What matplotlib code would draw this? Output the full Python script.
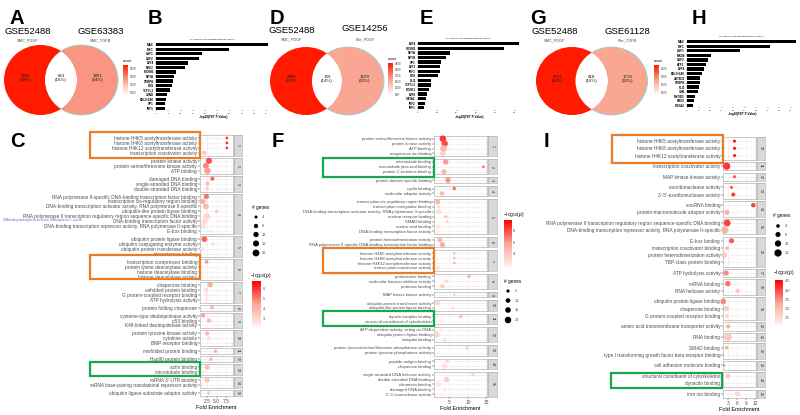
import numpy as np
import matplotlib
matplotlib.use("Agg")
import matplotlib.pyplot as plt
from matplotlib.patches import Ellipse, Rectangle
from matplotlib.colors import LinearSegmentedColormap, Normalize

plt.rcParams['font.family'] = ['Liberation Sans', 'DejaVu Sans']
plt.rcParams['mathtext.fontset'] = 'custom'
plt.rcParams['mathtext.rm'] = 'Liberation Sans'
plt.rcParams['mathtext.it'] = 'Liberation Sans:italic'

# ---------------- Venn data ----------------
venn_A_counts = [2686, 863, 1851]
venn_A_pct = [50, 16, 34]
venn_A_sets = ["GSE52488", "GSE63383"]
venn_A_sub = ["SMC_PDGF", "SMC_TGFB"]

venn_D_counts = [2800, 749, 1699]
venn_D_pct = [53, 14, 32]
venn_D_sets = ["GSE52488", "GSE14256"]
venn_D_sub = ["SMC_PDGF", "Fibr_PDGF"]

venn_G_counts = [2731, 818, 1719]
venn_G_pct = [52, 16, 33]
venn_G_sets = ["GSE52488", "GSE61128"]
venn_G_sub = ["SMC_PDGF", "Fibr_TGFB"]

# ---------------- TF bar data ----------------
B_tf = ["MAX", "MYC", "USF1", "USF2", "E2F4", "NFE2", "FOXM1", "NFYA", "CEBPB", "FOS",
        "TCF7L2", "JUND", "BHLHE40", "SP1", "IRF3"]
B_val = [45.5, 29.7, 18.9, 17.4, 13.1, 11.9, 8.0, 7.4, 6.8, 6.6, 5.7, 4.3, 4.1, 3.8, 3.5]

E_tf = ["E2F4", "FOXM1", "NFYA", "NFYB", "SP1", "E2F1", "IRF3", "FOS", "FLI1", "TCF7L2",
        "FOXK1", "E2F6", "GATA2", "IRF2", "IRF1"]
E_val = [52.3, 44.5, 16.7, 14.7, 11.7, 11.6, 11.4, 10.3, 6.9, 6.6, 5.9, 4.7, 4.0, 3.4, 2.9]

H_tf = ["MAX", "MYC", "USF1", "MXD4", "USF2", "ATF1", "E2F4", "BHLHE40", "ZBTB33", "CEBPB",
        "FLI1", "JUN", "MYOD1", "PBX3", "FOXA2"]
H_val = [47.5, 36.2, 23.2, 10.6, 9.1, 8.1, 7.5, 6.7, 5.8, 5.7, 5.4, 4.8, 3.3, 2.9, 2.5]

# ---------------- GO dot data: panel C ----------------
C_terms = [
    "histone H4K5 acetyltransferase activity", "histone H4K8 acetyltransferase activity",
    "histone H4K12 acetyltransferase activity", "transcription coactivator activity",
    "protein kinase activity", "protein serine/threonine kinase activity", "ATP binding",
    "damaged DNA binding", "single-stranded DNA binding", "double-stranded DNA binding",
    "RNA polymerase II-specific DNA-binding transcription factor binding",
    "transcription cis-regulatory region binding",
    "DNA-binding transcription activator activity, RNA polymerase II-specific",
    "ubiquitin-like protein ligase binding",
    "RNA polymerase II transcription regulatory region sequence-specific DNA binding",
    "DNA-binding transcription factor activity",
    "DNA-binding transcription repressor activity, RNA polymerase II-specific",
    "E-box binding",
    "ubiquitin protein ligase binding", "ubiquitin conjugating enzyme activity",
    "ubiquitin-protein transferase activity", "thioesterase binding",
    "transcription corepressor binding", "protein lysine deacetylase activity",
    "histone deacetylase binding", "histone deacetylase activity",
    "chaperone binding", "unfolded protein binding", "G protein-coupled receptor binding",
    "ATP hydrolysis activity",
    "protein folding chaperone",
    "cysteine-type deubiquitinase activity", "p53 binding", "K48-linked deubiquitinase activity",
    "protein tyrosine kinase activity", "cytokine activity", "BMP receptor binding",
    "misfolded protein binding",
    "Hsp90 protein binding",
    "actin binding", "microtubule binding",
    "mRNA 3'-UTR binding", "mRNA base-pairing translational repressor activity",
    "ubiquitin ligase-substrate adaptor activity"]
C_group = [1, 1, 1, 1, 2, 2, 2, 3, 3, 3, 4, 4, 4, 4, 4, 4, 4, 4, 5, 5, 5, 5, 6, 6, 6, 6,
           7, 7, 7, 7, 8, 9, 9, 9, 10, 10, 10, 11, 12, 13, 13, 14, 14, 15]
C_fe = [7.7, 7.7, 7.7, 1.7, 3.0, 2.2, 2.6, 3.9, 2.6, 2.5, 2.3, 1.4, 2.2, 5.0, 2.4, 1.8, 1.5, 3.5,
        1.8, 4.0, 1.2, 1.0, 2.4, 1.4, 1.2, 3.5, 3.3, 2.2, 2.4, 2.5, 3.8, 1.5, 3.0, 5.7,
        2.5, 3.0, 9.0, 4.7, 3.5, 2.5, 1.6, 2.5, 1.3, 2.9]
C_genes = [3, 3, 3, 10, 16, 15, 18, 7, 7, 7, 12, 12, 15, 5, 20, 16, 12, 6, 14, 5, 8, 3, 6, 4, 6, 4,
           12, 8, 8, 10, 7, 6, 8, 3, 8, 8, 3, 5, 6, 12, 6, 12, 4, 6]
C_logp = [6.3, 6.3, 6.3, 3.4, 5.8, 5.0, 4.6, 5.6, 3.8, 3.2, 5.2, 4.3, 3.9, 3.3, 3.0, 2.9, 2.7, 2.5,
          5.5, 2.8, 2.5, 2.3, 4.6, 2.5, 2.4, 2.3, 4.3, 3.0, 2.6, 2.3, 4.0, 4.6, 4.0, 2.4,
          3.8, 2.6, 2.3, 4.2, 3.8, 3.7, 2.4, 3.5, 2.3, 3.3]

# ---------------- panel F ----------------
F_terms = [
    "protein serine/threonine kinase activity", "protein kinase activity", "ATP binding",
    "magnesium ion binding",
    "microtubule binding", "microtubule plus-end binding", "protein C-terminus binding",
    "protein domain specific binding",
    "cyclin binding", "molecular adaptor activity",
    "transcription cis-regulatory region binding", "transcription coregulator binding",
    "DNA-binding transcription activator activity, RNA polymerase II-specific",
    "nuclear receptor binding", "SMAD binding", "nucleic acid binding",
    "DNA-binding transcription factor activity",
    "protein heterodimerization activity",
    "RNA polymerase II-specific DNA-binding transcription factor binding",
    "histone H4K5 acetyltransferase activity", "histone H4K8 acetyltransferase activity",
    "histone H4K12 acetyltransferase activity", "transcription coactivator activity",
    "proteasome binding", "molecular function inhibitor activity", "protease binding",
    "MAP kinase kinase activity",
    "ubiquitin-protein transferase activity", "ubiquitin-like protein ligase binding",
    "dynein complex binding", "structural constituent of cytoskeleton",
    "ATP-dependent activity, acting on DNA", "ubiquitin protein ligase binding", "ubiquitin binding",
    "protein tyrosine/serine/threonine phosphatase activity", "protein tyrosine phosphatase activity",
    "peptide antigen binding", "chaperone binding",
    "single-stranded DNA helicase activity", "double-stranded DNA binding", "chromatin binding",
    "damaged DNA binding", "5'-3' exonuclease activity"]
F_group = [1, 1, 1, 1, 2, 2, 2, 3, 4, 4, 5, 5, 5, 5, 5, 5, 5, 6, 6, 7, 7, 7, 7, 8, 8, 8, 9,
           10, 10, 11, 11, 12, 12, 12, 13, 13, 14, 14, 15, 15, 15, 15, 15]
F_fe = [3.2, 3.7, 3.4, 3.2, 4.0, 14.2, 3.5, 4.6, 6.3, 3.0, 1.8, 2.0, 2.1, 4.0, 4.4, 2.0, 1.6,
        2.4, 3.1, 6.3, 6.3, 6.3, 2.0, 10.3, 4.1, 3.1, 6.3, 1.8, 6.0, 8.1, 2.6, 2.8, 1.6, 3.7,
        9.8, 2.1, 4.4, 3.7, 11.4, 4.2, 2.0, 3.7, 2.8]
F_genes = [20, 20, 22, 14, 14, 4, 13, 14, 6, 10, 12, 5, 12, 6, 4, 8, 10, 12, 14, 3, 3, 3, 12,
           6, 6, 10, 3, 12, 6, 7, 6, 4, 16, 10, 7, 5, 5, 14, 7, 12, 14, 8, 4]
F_logp = [8.8, 8.2, 5.0, 4.0, 6.2, 7.0, 5.0, 6.3, 7.2, 5.0, 5.2, 3.2, 3.0, 4.0, 3.5, 2.6, 2.2,
          5.0, 5.6, 5.4, 5.4, 5.4, 2.6, 5.0, 3.5, 4.0, 4.0, 3.5, 2.6, 4.5, 2.2, 2.6, 3.5, 2.6,
          3.5, 2.2, 3.5, 3.0, 3.5, 4.0, 2.5, 2.2, 2.2]

# ---------------- panel I ----------------
I_terms = [
    "histone H4K5 acetyltransferase activity", "histone H4K8 acetyltransferase activity",
    "histone H4K12 acetyltransferase activity",
    "transcription coactivator activity",
    "MAP kinase kinase activity",
    "exoribonuclease activity", "3'-5'-exoribonuclease activity",
    "snoRNA binding", "protein-macromolecule adaptor activity",
    "RNA polymerase II transcription regulatory region sequence-specific DNA binding",
    "DNA-binding transcription repressor activity, RNA polymerase II-specific",
    "E-box binding", "transcription coactivator binding", "protein heterodimerization activity",
    "TBP-class protein binding",
    "ATP hydrolysis activity",
    "mRNA binding", "RNA helicase activity",
    "ubiquitin protein ligase binding", "chaperone binding", "G protein-coupled receptor binding",
    "amino acid transmembrane transporter activity",
    "RNA binding",
    "SMAD binding", "type I transforming growth factor beta receptor binding",
    "cell adhesion molecule binding",
    "structural constituent of cytoskeleton", "dynactin binding",
    "iron ion binding"]
I_group = [10, 10, 10, 11, 12, 13, 13, 14, 14, 15, 15, 16, 16, 16, 16, 17, 18, 18, 19, 19, 19,
           20, 21, 22, 22, 23, 24, 24, 25]
I_fe = [5.2, 5.2, 5.2, 2.6, 5.2, 4.2, 4.8, 11.4, 2.7, 2.8, 2.0, 4.2, 2.8, 1.8, 3.4, 2.4, 3.0,
        6.2, 1.5, 2.5, 2.6, 3.1, 3.0, 2.6, 6.0, 1.8, 3.0, 2.0, 6.2]
I_genes = [3, 3, 3, 16, 3, 3, 5, 6, 8, 14, 15, 8, 4, 10, 2, 8, 9, 6, 10, 8, 5, 5, 18, 4, 2, 2,
           7, 2, 8]
I_logp = [4.5, 4.5, 4.5, 4.3, 4.0, 4.0, 4.2, 4.2, 3.2, 4.2, 3.2, 4.0, 3.2, 2.8, 2.3, 3.6, 3.8,
          2.8, 3.6, 2.8, 2.6, 3.3, 2.8, 3.2, 2.3, 3.5, 2.8, 2.2, 2.6]

# ================= drawing =================
W, H = 800, 415
fig = plt.figure(figsize=(W / 100, H / 100), dpi=100)
fig.patch.set_facecolor('white')

ov = fig.add_axes([0, 0, 1, 1], zorder=10)
ov.set_xlim(0, W)
ov.set_ylim(H, 0)
ov.axis('off')


def px_axes(x0, y0, x1, y1, **kw):
    return fig.add_axes([x0 / W, 1 - y1 / H, (x1 - x0) / W, (y1 - y0) / H], **kw)


venn_cmap = LinearSegmentedColormap.from_list(
    'venn', [(0, '#FFFFFF'), (0.5, '#F9A08B'), (1, '#FF1A00')])
dot_cmap = LinearSegmentedColormap.from_list(
    'dot', [(0, '#FFF3F1'), (0.5, '#FBA596'), (1, '#FF0000')])


def colorbar(x0, y0, x1, y1, cmap, vmin, vmax, ticks, labels, title, fs, title_fs, title_x, title_y):
    ax = px_axes(x0, y0, x1, y1)
    ax.imshow(np.linspace(vmin, vmax, 256)[:, None], aspect='auto', cmap=cmap, origin='lower',
              extent=[0, 1, vmin, vmax], vmin=vmin, vmax=vmax)
    ax.set_xlim(0, 1)
    ax.set_ylim(vmin, vmax)
    ax.set_xticks([])
    ax.yaxis.tick_right()
    ax.set_yticks(ticks)
    ax.set_yticklabels(labels, fontsize=fs, color='#4D4D4D')
    ax.tick_params(axis='y', length=1.0, width=0.3, color='white', pad=1, direction='in')
    for sp in ax.spines.values():
        sp.set_visible(False)
    ov.text(title_x, title_y, title, fontsize=title_fs, ha='left', va='center', color='black')


def venn(counts, pct, sets, subs, cxL, cxR, cy, w, h, set_x, set_base, sub_y, cb):
    norm = Normalize(min(counts), max(counts))
    cL, cI, cR = [venn_cmap(norm(c)) for c in counts]
    right = Ellipse((cxR, cy), w, h, facecolor=cR, edgecolor='#8FD3D3', lw=0.6, zorder=1)
    ov.add_patch(right)
    left = Ellipse((cxL, cy), w, h, facecolor=cL, edgecolor='none', zorder=2)
    ov.add_patch(left)
    lens = Ellipse((cxR, cy), w, h, facecolor=cI, edgecolor='none', zorder=3)
    ov.add_patch(lens)
    lens.set_clip_path(left)
    r = w / 2
    xs = [cxL - 0.4 * r, (cxL + cxR) / 2, cxR + 0.45 * r]
    for x, c, p in zip(xs, counts, pct):
        ov.text(x, cy - 2, f"{c}\n({p}%)", fontsize=3.2, ha='center', va='center',
                color='#1A1A1A', linespacing=1.15, zorder=5)
    for x, yb, s in zip(set_x, set_base, sets):
        ov.text(x, yb, s, fontsize=6.8, ha='center', va='baseline', color='black')
    for x, s in zip(set_x, subs):
        ov.text(x, sub_y, s, fontsize=2.8, ha='center', va='center', color='#4D4D4D')
    vmin, vmax = min(counts), max(counts)
    ticks = [t for t in cb[4] if vmin <= t <= vmax]
    colorbar(cb[0], cb[1], cb[2], cb[3], venn_cmap, vmin, vmax, ticks, [str(t) for t in ticks],
             'count', 2.2, 2.6, cb[0], cb[1] - 3.5)


def bar_panel(names, vals, x0, y0, x1, y1, xmax, xticks, title):
    ax = px_axes(x0, y0, x1, y1)
    yy = np.arange(len(names))
    ax.barh(yy, vals, height=0.72, color='black')
    ax.set_ylim(len(names) - 0.5, -0.5)
    ax.set_xlim(0, xmax)
    ax.set_yticks(yy)
    ax.set_yticklabels(names, fontsize=2.2, fontweight='bold')
    ax.set_xticks(xticks)
    ax.set_xticklabels([f'{t:g}' for t in xticks], fontsize=1.6)
    ax.tick_params(length=0.8, width=0.3, pad=0.8)
    for sp in ax.spines.values():
        sp.set_visible(False)
    ax.set_title(title, fontsize=1.6, pad=1.5)
    ax.set_xlabel('-log10(FET P-Value)', fontsize=2.2, fontweight='bold', labelpad=1)


def dot_panel(terms, groups, fe, genes, logp, x0, x1, top, bottom, b, g, xlim, xticks,
              xticklabels, norm, k, label_fs, strip_w, tick_fs, xlabel_fs):
    uniq = list(dict.fromkeys(groups))
    G, N = len(uniq), len(terms)
    a = (bottom - top - (G - 1) * g - G * b) / N
    y = top
    minor = [(xticks[i] + xticks[i + 1]) / 2 for i in range(len(xticks) - 1)]
    for gi, gid in enumerate(uniq):
        idx = [i for i in range(N) if groups[i] == gid]
        n = len(idx)
        h = n * a + b
        ax = px_axes(x0, y, x1, y + h)
        e = b / (2 * a)
        ax.set_ylim(n - 0.5 + e, -0.5 - e)
        ax.set_xlim(*xlim)
        ax.scatter([fe[i] for i in idx], np.arange(n), s=[k * genes[i] for i in idx],
                   c=[logp[i] for i in idx], cmap=dot_cmap, norm=norm, edgecolors='none',
                   zorder=3, alpha=0.92, clip_on=False)
        ax.set_yticks(np.arange(n))
        ax.set_yticklabels([terms[i] for i in idx], fontsize=label_fs, color='#4D4D4D')
        ax.set_xticks(xticks)
        ax.set_xticks(minor, minor=True)
        ax.set_axisbelow(True)
        ax.grid(True, which='major', color='#EBEBEB', lw=0.4)
        ax.grid(True, which='minor', axis='x', color='#F4F4F4', lw=0.25)
        ax.tick_params(axis='both', length=1.2, width=0.35, color='#333333', pad=0.8)
        ax.tick_params(axis='x', which='minor', length=0)
        if gi < G - 1:
            ax.set_xticklabels([])
            ax.tick_params(axis='x', which='major', length=0)
        else:
            ax.set_xticklabels(xticklabels, fontsize=tick_fs, color='#4D4D4D')
            ax.set_xlabel('Fold Enrichment', fontsize=xlabel_fs, labelpad=1.2)
        for sp in ax.spines.values():
            sp.set_color('#B3B3B3')
            sp.set_linewidth(0.5)
        sx = px_axes(x1 + 0.8, y, x1 + 0.8 + strip_w, y + h)
        sx.set_facecolor('#D9D9D9')
        sx.set_xticks([])
        sx.set_yticks([])
        for sp in sx.spines.values():
            sp.set_color('#A6A6A6')
            sp.set_linewidth(0.4)
        sx.text(0.5, 0.5, str(gid), rotation=-90, ha='center', va='center', fontsize=2.6,
                color='#1A1A1A', transform=sx.transAxes)
        y += h + g


def size_legend(x_title, y_title, x_dot, ys, vals, k, x_lab):
    ov.text(x_title, y_title, '# genes', fontsize=3.4, ha='left', va='center', color='black')
    ov.scatter([x_dot] * len(vals), ys, s=[k * v for v in vals], color='black',
               edgecolors='none')
    for yy, v in zip(ys, vals):
        ov.text(x_lab, yy, str(v), fontsize=2.8, ha='left', va='center', color='#4D4D4D')


# ---- panel letters ----
for letter, x, yb in [('A', 10, 23.5), ('B', 148, 24), ('D', 270, 23.5), ('E', 420, 24),
                      ('G', 530, 23.5), ('H', 692, 24), ('C', 10, 147), ('F', 272, 147),
                      ('I', 544, 147)]:
    ov.text(x, yb, letter, fontsize=14.5, fontweight='bold', ha='left', va='baseline')

# ---- Venns ----
venn(venn_A_counts, venn_A_pct, venn_A_sets, venn_A_sub, 40.5, 81.5, 80, 73, 70,
     [27.5, 100.5], [33.5, 33.5], 40, (123, 65, 128, 95, [1000, 1500, 2000, 2500]))
venn(venn_D_counts, venn_D_pct, venn_D_sets, venn_D_sub, 306, 348, 81, 72, 68,
     [292, 365], [33.0, 31.0], 39.5, (388, 63, 393, 95, [800, 1200, 1600, 2000, 2400, 2800]))
venn(venn_G_counts, venn_G_pct, venn_G_sets, venn_G_sub, 572, 611.5, 81, 72, 68,
     [555, 627], [33.7, 33.5], 40, (654, 65, 659, 95, [1000, 1500, 2000, 2500]))

# ---- TF bar charts ----
bar_panel(B_tf, B_val, 156, 42.5, 270, 110.5, 46.5, list(range(0, 50, 5)),
          'TF enrichment of overlapping genes (ChEA3)')
bar_panel(E_tf, E_val, 418, 41.5, 520, 110, 52.8, list(range(0, 60, 10)),
          'TF enrichment of overlapping genes (ChEA3)')
bar_panel(H_tf, H_val, 687, 39.5, 797, 107.5, 47.8, list(range(0, 50, 5)),
          'TF enrichment of overlapping genes (ChEA3)')

# ---- GO dot plots ----
C_norm = Normalize(2.1, 6.7)
F_norm = Normalize(1.8, 9.7)
I_norm = Normalize(2.1, 4.55)

dot_panel(C_terms, C_group, C_fe, C_genes, C_logp, 200, 233, 135, 396, 1.0, 2.0,
          (0.65, 9.3), [2.5, 5.0, 7.5], ['2.5', '5.0', '7.5'], C_norm, 1.2, 3.4, 8.5, 3.5, 4.0)
dot_panel(F_terms, F_group, F_fe, F_genes, F_logp, 434, 487, 136, 397, 0.5, 3.0,
          (0.8, 15.2), [5, 10, 15], ['5', '10', '15'], F_norm, 1.1, 3.0, 9.0, 3.5, 4.0)
dot_panel(I_terms, I_group, I_fe, I_genes, I_logp, 723, 756, 137, 398, 1.1, 2.3,
          (1.4, 12.3), [3, 6, 9, 12], ['3', '6', '9', '12'], I_norm, 1.7, 3.4, 8.5, 3.5, 4.0)

logp_title = r'$\mathregular{-log_{10}(}\mathit{p}\mathregular{)}$'
colorbar(252, 281, 261, 327, dot_cmap, 2.1, 6.7, [3, 4, 5, 6], ['3', '4', '5', '6'],
         logp_title, 2.8, 3.6, 250, 275)
colorbar(504, 220, 511, 267, dot_cmap, 1.8, 9.7, [4, 6, 8], ['4', '6', '8'],
         logp_title, 2.8, 3.6, 503, 214)
colorbar(775, 280, 783, 325, dot_cmap, 2.1, 4.55, [2.5, 3.0, 3.5, 4.0, 4.5],
         ['2.5', '3.0', '3.5', '4.0', '4.5'], logp_title, 2.8, 3.6, 773, 272)

size_legend(252, 207, 256, [217, 226, 234.5, 243.5, 253], [4, 8, 12, 16, 20], 1.2, 262)
size_legend(504, 281, 508, [291, 300.5, 310, 320], [5, 10, 15, 20], 1.1, 515)
size_legend(773, 215, 778, [226, 234.5, 243.5, 253], [4, 8, 12, 16], 1.7, 785)

# small overlapping annotation line in panel C (as in the original figure)
ov.text(3, 219.5, "DNA-binding transcription factor activity, RNA polymerase II-specific",
        fontsize=1.9, color='#5A6FB8', ha='left', va='center')

# ---- highlight boxes ----
ORANGE = '#EE7B24'
GREEN = '#16A84A'
boxes = [(90, 131.7, 200, 158, ORANGE), (90, 255, 200, 279, ORANGE), (90, 361.7, 200, 376, GREEN),
         (323, 158, 434, 176.7, GREEN), (323, 247.7, 434, 273.3, ORANGE), (323, 311, 434, 326, GREEN),
         (611.7, 135, 722.7, 162.7, ORANGE), (611, 373.3, 721.7, 388.3, GREEN)]
for x0, y0, x1, y1, col in boxes:
    ov.add_patch(Rectangle((x0, y0), x1 - x0, y1 - y0, fill=False, edgecolor=col, lw=1.6, zorder=20))

fig.savefig('out.png', dpi=100)
